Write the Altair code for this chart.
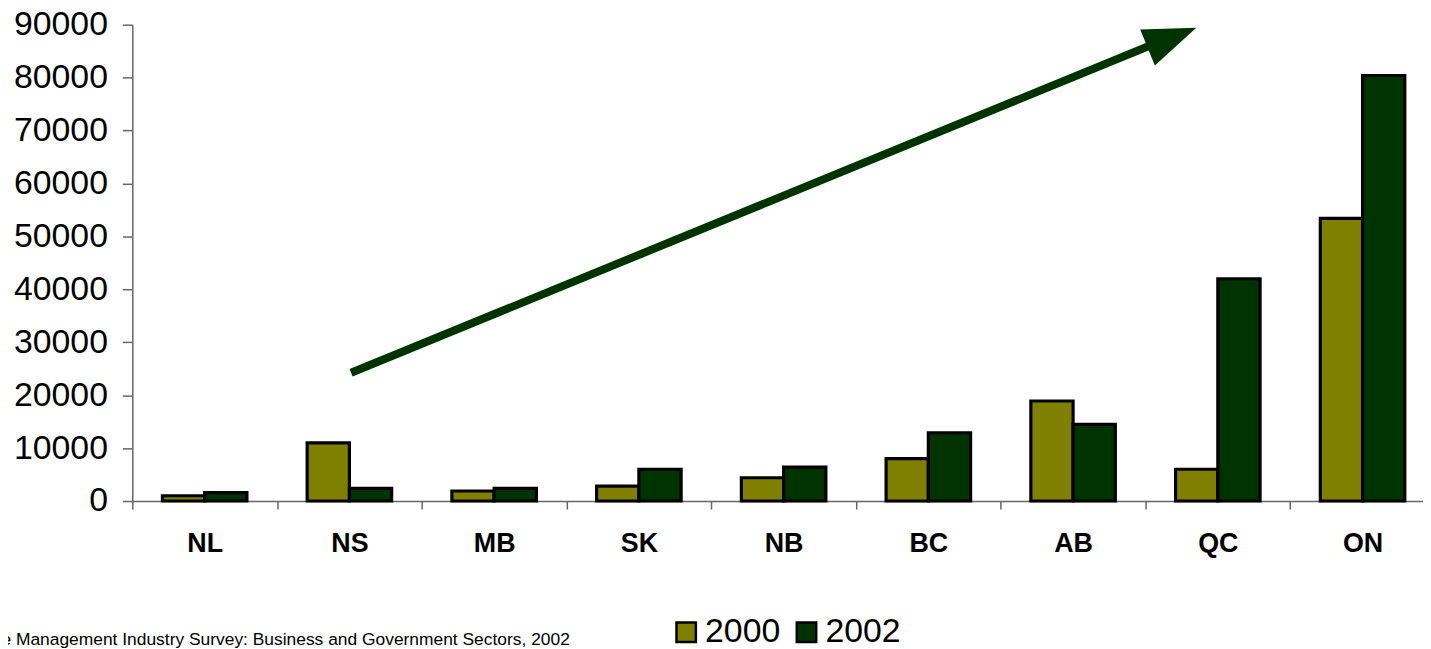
import altair as alt
import pandas as pd

provinces = ["NL", "NS", "MB", "SK", "NB", "BC", "AB", "QC", "ON"]
years = ["2000", "2002"]
values_2000 = [1000, 11000, 1900, 2800, 4400, 8000, 18900, 6000, 53400]
values_2002 = [1600, 2400, 2400, 6000, 6400, 12900, 14500, 42000, 80400]
y_ticks = [0, 10000, 20000, 30000, 40000, 50000, 60000, 70000, 80000, 90000]
source_text = "Source: Statistics Canada, Waste Management Industry Survey: Business and Government Sectors, 2002"
colors = ["#808000", "#003300"]

rows = []
for i, p in enumerate(provinces):
    rows.append({"province": p, "year": years[0], "value": values_2000[i]})
    rows.append({"province": p, "year": years[1], "value": values_2002[i]})
df = pd.DataFrame(rows)

FONT = "Arial, Liberation Sans, sans-serif"
AXIS_GREY = "#666666"

bars = alt.Chart(df).mark_bar(stroke="black", strokeWidth=3.2).encode(
    x=alt.X(
        "province:N",
        sort=provinces,
        scale=alt.Scale(paddingInner=0, paddingOuter=0),
        axis=alt.Axis(
            title=None, labelAngle=0, labelFont=FONT, labelFontSize=27,
            labelFontWeight="bold", labelColor="black", labelPadding=22,
            tickBand="extent", tickSize=8, tickColor=AXIS_GREY, tickWidth=1.5,
            domainColor=AXIS_GREY, domainWidth=1.5, grid=False,
        ),
    ),
    xOffset=alt.XOffset("year:N", sort=years,
                        scale=alt.Scale(paddingOuter=0.713, paddingInner=0)),
    y=alt.Y(
        "value:Q",
        scale=alt.Scale(domain=[0, 90000], nice=False),
        axis=alt.Axis(
            values=y_ticks, title=None, format="d", labelFont=FONT,
            labelFontSize=34, labelColor="black", labelPadding=15,
            tickSize=10, tickColor=AXIS_GREY, tickWidth=1.5,
            domainColor=AXIS_GREY, domainWidth=1.5, grid=False,
        ),
    ),
    color=alt.Color(
        "year:N",
        scale=alt.Scale(domain=years, range=colors),
        legend=alt.Legend(
            title=None, orient="none", legendX=540, legendY=594,
            direction="horizontal", symbolType="square", symbolSize=380,
            symbolStrokeColor="black", symbolStrokeWidth=2.5,
            labelFont=FONT, labelFontSize=34, labelColor="black",
            labelOffset=2, columnPadding=9,
        ),
    ),
)

one = alt.Data(values=[{"t": source_text}])

arrow = alt.Chart(one).mark_rule(color="#003300", strokeWidth=8, strokeCap="butt").encode(
    x=alt.value(220), y=alt.value(350), x2=alt.value(1028), y2=alt.value(19.1)
)

head = alt.Chart(one).mark_point(
    shape="M 1 0 L -1 -0.74 L -1 0.74 Z", filled=True, fill="#003300",
    strokeWidth=0, size=2800, angle=337.9, opacity=1,
).encode(x=alt.value(1045.5), y=alt.value(13.0))

source = alt.Chart(one).mark_text(
    align="right", baseline="middle", font=FONT, fontSize=17.5, color="black"
).encode(x=alt.value(440), y=alt.value(619), text="t:N")

chart = alt.layer(bars, arrow, head, source).properties(
    width=1310, height=479,
    autosize=alt.AutoSizeParams(type="none"),
    padding={"left": 125, "top": 15, "right": -12, "bottom": 147},
    background="white",
).configure_view(stroke=None, strokeWidth=0)

chart.save("out.html", embed_options={"renderer": "svg", "actions": False})
